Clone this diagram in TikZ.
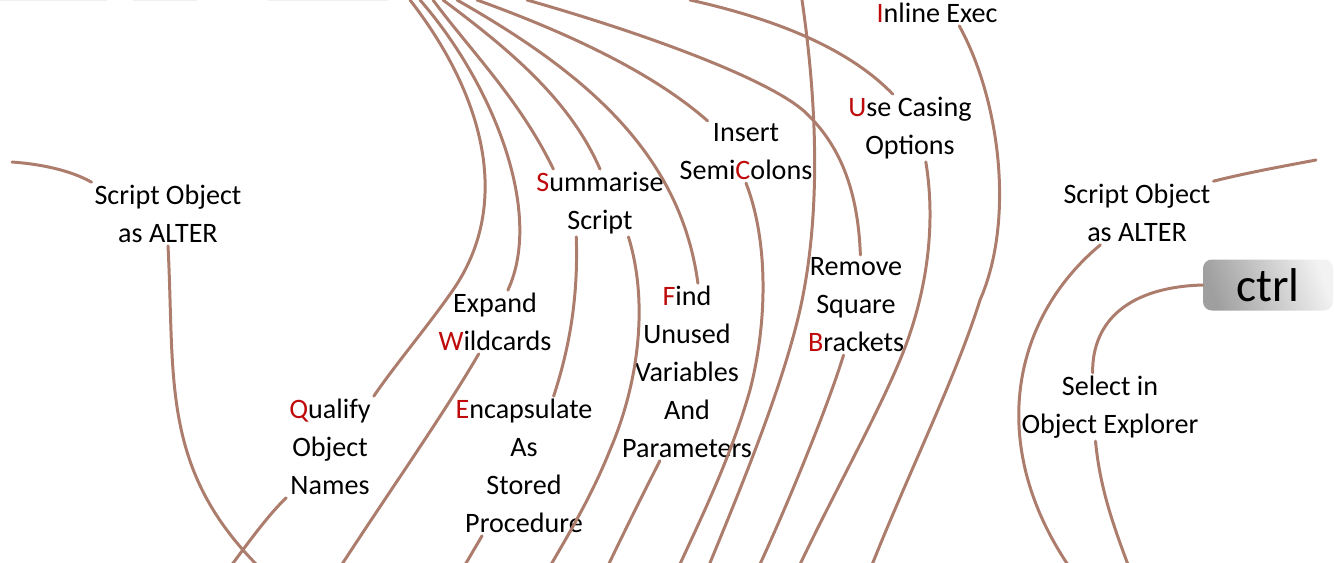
\documentclass[tikz,border=0pt]{standalone}
\usepackage{fontspec}
\setmainfont{Carlito}
\definecolor{limbbrown}{RGB}{172,124,108}
\definecolor{initred}{RGB}{190,10,10}
\newcommand{\keyl}[1]{\textcolor{initred}{#1}}
\tikzset{
  limb/.style={draw=limbbrown, line width=1.7pt, line cap=round},
  topic/.style={align=center, font=\fontsize{16}{21.6}\selectfont, inner sep=1.5pt},
  ctrlkey/.style={rounded corners=5pt, minimum width=2.6cm, minimum height=1.02cm,
    left color=gray!75, right color=gray!10, shading angle=110,
    font=\fontsize{27}{30}\selectfont}
}

\begin{document}
\begin{tikzpicture}[x=0.02cm,y=-0.02cm]
	\useasboundingbox (0,0) rectangle (1334,562);
	\clip (0,0) rectangle (1334,562);
	\draw [gray!12, line width=0.8pt] (0,0.4) -- (107,0.4);
	\draw [gray!12, line width=0.8pt] (133,0.4) -- (197,0.4);
	\draw [gray!12, line width=0.8pt] (268,0.4) -- (388,0.4);

	\node [topic] (alterL) at (168,214) {Script Object\\as ALTER};
	\node [topic] (alterR) at (1137,213) {Script Object\\as ALTER};
	\node [topic] (summ) at (600,203) {\keyl{S}ummarise\\Script};
	\node [topic] (semi) at (746,152) {Insert\\Semi\keyl{C}olons};
	\node [topic] (inl) at (937,13) {\keyl{I}nline Exec};
	\node [topic] (casing) at (910,128) {\keyl{U}se Casing\\Options};
	\node [topic] (brack) at (856,305) {Remove\\Square\\\keyl{B}rackets};
	\node [topic] (find) at (687,372) {\keyl{F}ind\\Unused\\Variables\\And\\Parameters};
	\node [topic] (wild) at (495,322) {Expand\\\keyl{W}ildcards};
	\node [topic] (encap) at (524,466) {\keyl{E}ncapsulate\\As\\Stored\\Procedure};
	\node [topic] (qual) at (330,447) {\keyl{Q}ualify\\Object\\Names};
	\node [topic] (sel) at (1110,407) {Select in\\Object Explorer};
	\node [ctrlkey] (ctrl) at (1268,285) {ctrl};

	\coordinate (hubA) at (410,0);
	\coordinate (hubB) at (420,0);
	\coordinate (hubC) at (433,0);
	\coordinate (hubD) at (443,0);
	\coordinate (hubE) at (457,0);
	\coordinate (hubF) at (477,0);
	\coordinate (hubG) at (527,0);
	\coordinate (hubH) at (690,0);
	\coordinate (hubI) at (802,0);
	\coordinate (edgeL) at (12,162);
	\coordinate (edgeR) at (1316,160);

	\draw [limb] (hubA) .. controls (480,90) and (515,200) .. (453,290) .. controls (428,326) and (395,365) .. (qual.north east);
	\draw [limb] (qual.south west) .. controls (270,513) and (250,540) .. (228,570);
	\draw [limb] (hubB) .. controls (490,80) and (545,210) .. (wild.68);
	\draw [limb] (wild.243) .. controls (440,420) and (390,490) .. (335,575);
	\draw [limb] (hubC) .. controls (470,50) and (520,100) .. (summ.144);
	\draw [limb] (summ.235) .. controls (578,290) and (572,340) .. (encap.67);
	\draw [limb] (encap.239) -- (462,570);
	\draw [limb] (hubD) .. controls (510,50) and (570,100) .. (summ.north);
	\draw [limb] (summ.-50) .. controls (648,300) and (640,380) .. (610,450) .. controls (590,500) and (565,540) .. (545,575);
	\draw [limb] (hubE) .. controls (580,70) and (680,150) .. (find.83);
	\draw [limb] (find.253) .. controls (640,500) and (625,530) .. (605,572);
	\draw [limb] (hubF) .. controls (560,30) and (650,70) .. (semi.141);
	\draw [limb] (semi.south) .. controls (768,240) and (768,320) .. (750,390) .. controls (730,460) and (700,520) .. (675,575);
	\draw [limb] (hubG) .. controls (650,35) and (770,80) .. (805,112) .. controls (840,145) and (858,190) .. (brack.85);
	\draw [limb] (brack.256) .. controls (830,400) and (790,500) .. (755,575);
	\draw [limb] (hubH) .. controls (780,20) and (850,50) .. (casing.117);
	\draw [limb] (casing.-65) .. controls (937,230) and (925,300) .. (900,360) .. controls (875,420) and (830,500) .. (795,575);
	\draw [limb] (hubI) .. controls (818,110) and (822,230) .. (795,330) .. controls (775,405) and (740,490) .. (705,575);
	\draw [limb] (inl.-30) .. controls (1000,100) and (1015,220) .. (980,300) .. controls (955,380) and (905,480) .. (868,575);
	\draw [limb] (edgeL) .. controls (40,164) and (70,170) .. (alterL.north west);
	\draw [limb] (alterL.south) .. controls (175,380) and (160,470) .. (262,570);
	\draw [limb] (alterR.north east) .. controls (1250,172) and (1290,165) .. (edgeR);
	\draw [limb] (alterR.221) .. controls (1010,320) and (985,450) .. (1075,575);
	\draw [limb] (ctrl.west) .. controls (1130,287) and (1092,320) .. (sel.117);
	\draw [limb] (sel.247) .. controls (1100,490) and (1115,530) .. (1130,570);
\end{tikzpicture}
\end{document}
